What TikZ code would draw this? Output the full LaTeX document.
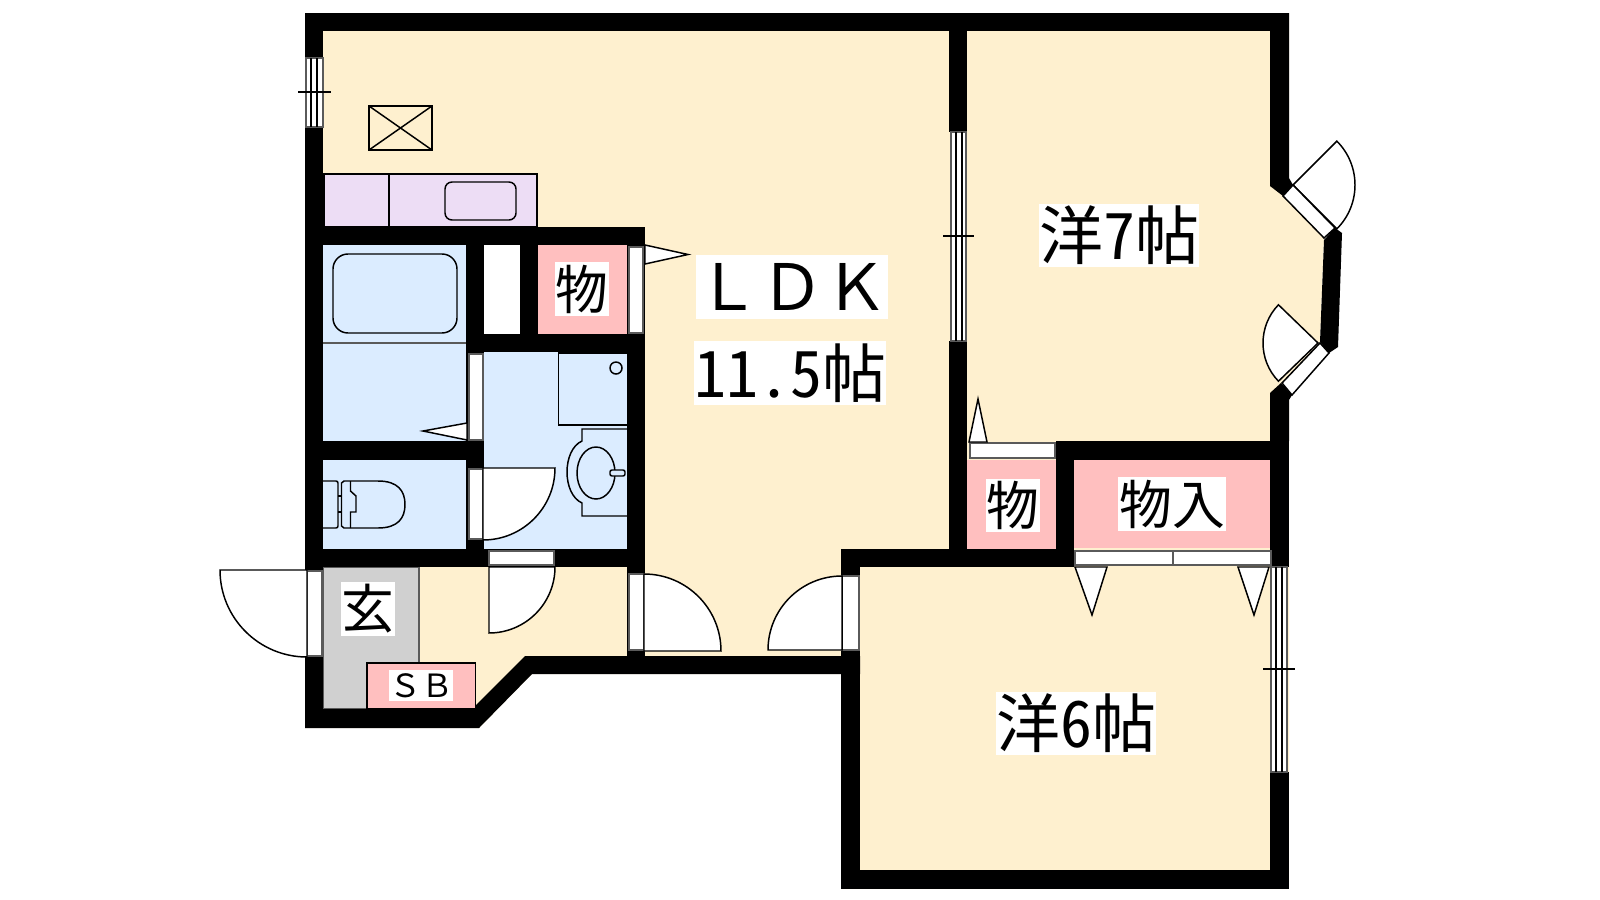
\documentclass[tikz,border=0pt]{standalone}
\usepackage{fontspec}
\usepackage{tikz}
\newfontfamily\gothicFont[RawFeature=+hwid]{Noto Sans CJK JP}
\newfontfamily\wideFont{Noto Sans CJK JP}
\definecolor{roomColor}{RGB}{254,240,207}
\definecolor{wetColor}{RGB}{219,236,255}
\definecolor{storeColor}{RGB}{255,191,191}
\definecolor{kitchenColor}{RGB}{237,221,245}
\definecolor{entryColor}{RGB}{208,208,208}
\definecolor{slotColor}{RGB}{90,90,90}
\tikzstyle{floorPlan} = [x = .01cm, y = -.01cm]
\tikzstyle{wallStyle} = [fill=black]
\tikzstyle{fixtureLine} = [draw=black, line width=.42pt]
\tikzstyle{paneLine} = [draw=black, line width=.3pt]
\tikzstyle{slotLine} = [draw=slotColor, line width=.42pt]
\tikzstyle{leafStyle} = [draw=black, fill=white, line width=.42pt]
\tikzstyle{labelStyle} = [fill=white, inner sep=0pt, text=black]
\newcommand{\bigText}{\gothicFont\fontsize{18.2}{18.2}\selectfont}
\newcommand{\bigWide}{\wideFont\fontsize{18.2}{18.2}\selectfont}
\newcommand{\midText}{\gothicFont\fontsize{15}{15}\selectfont}
\newcommand{\smallWide}{\wideFont\fontsize{9.1}{9.1}\selectfont}
\newcommand{\slotGap}{1.2}
\newcommand{\wall}[4]{\fill [wallStyle] (#1,#2) rectangle (#3,#4);}
\newcommand{\room}[5]{\fill [#1] (#2,#3) rectangle (#4,#5);}
\newcommand{\slotBox}[4]{
  \fill [white] (#1 - \slotGap,#2 - \slotGap) rectangle (#3 + \slotGap,#4 + \slotGap);
  \draw [slotLine] (#1,#2) rectangle (#3,#4);
}
\newcommand{\doorMark}[6]{\filldraw [leafStyle] (#1,#2) -- (#3,#4) -- (#5,#6) -- cycle;}
% hinge x, hinge y, start angle, end angle, radius
\newcommand{\doorLeaf}[5]{\filldraw [leafStyle] (#1,#2) -- ++(#3:#5) arc [start angle=#3, end angle=#4, radius=#5] -- cycle;}
\newcommand{\windowV}[6]{
  \slotBox{#1}{#2}{#3}{#4}
  \pgfmathsetmacro{\lineLeft}{#1 + 5}
  \pgfmathsetmacro{\lineRight}{#1 + 11}
  \draw [paneLine] (\lineLeft,#2) -- (\lineLeft,#4);
  \draw [paneLine] (\lineRight,#2) -- (\lineRight,#4);
  \draw [paneLine] (#1 - 8,#5) -- (#3 + 8,#5);
  \draw [paneLine] (\lineLeft,#5 - #6) -- (\lineLeft,#5);
  \draw [paneLine] (\lineRight,#5) -- (\lineRight,#5 + #6);
}
\begin{document}
\begin{tikzpicture}[floorPlan]
  \useasboundingbox (0,0) rectangle (1600,900);
  % floor
  \fill [roomColor] (305,13) -- (1289,13) -- (1289,180) -- (1283,196) -- (1324,238) -- (1320,342)
    -- (1282,383) -- (1289,400) -- (1289,889) -- (841,889) -- (841,674) -- (532,674) -- (479,728)
    -- (305,728) -- cycle;
  \room{wetColor}{323}{245}{466}{441}
  \room{wetColor}{323}{460}{466}{549}
  \room{wetColor}{484}{352}{627}{549}
  \room{white}{484}{245}{520}{334}
  \room{storeColor}{538}{245}{627}{334}
  \room{storeColor}{967}{460}{1056}{549}
  \room{storeColor}{1074}{460}{1270}{548}
  \filldraw [entryColor, draw=slotColor, line width=.3pt] (323,567) rectangle (419,709);
  % walls
  \wall{305}{13}{1289}{31}
  \wall{305}{13}{323}{58}
  \wall{305}{127}{323}{728}
  \wall{949}{31}{967}{132}
  \wall{949}{341}{967}{549}
  \wall{305}{227}{645}{245}
  \wall{466}{245}{484}{549}
  \wall{520}{245}{538}{334}
  \wall{466}{334}{645}{352}
  \wall{627}{227}{645}{656}
  \wall{305}{441}{484}{460}
  \wall{305}{549}{645}{567}
  \fill [wallStyle] (525,656) -- (860,656) -- (860,674) -- (532,674) -- (479,728) -- (305,728)
    -- (305,709) -- (472,709) -- cycle;
  \wall{841}{549}{860}{889}
  \wall{841}{549}{1074}{567}
  \wall{1056}{441}{1074}{567}
  \wall{1056}{441}{1289}{460}
  \wall{841}{870}{1289}{889}
  \wall{1270}{772}{1289}{889}
  \wall{1270}{441}{1289}{567}
  \fill [wallStyle] (1270,13) -- (1289,13) -- (1289,178) -- (1293,185) -- (1283,196) -- (1270,186) -- cycle;
  \fill [wallStyle] (1335,228) -- (1342,233) -- (1338,347) -- (1329,353) -- (1320,342) -- (1324,240) -- cycle;
  \fill [wallStyle] (1270,393) -- (1281,383) -- (1292,395) -- (1289,400) -- (1289,441) -- (1270,441) -- cycle;
  % kitchen
  \filldraw [fixtureLine, fill=kitchenColor] (324,174) rectangle (537,227);
  \draw [fixtureLine] (389,174) -- (389,227);
  \draw [fixtureLine, rounded corners=.07cm] (445,182) rectangle (516,220);
  \draw [fixtureLine] (369,106) rectangle (432,150);
  \draw [fixtureLine] (369,106) -- (432,150);
  \draw [fixtureLine] (369,150) -- (432,106);
  % bath
  \draw [fixtureLine, rounded corners=.15cm] (333,254) rectangle (457,333);
  \draw [slotLine] (323,343) -- (466,343);
  % wash basin and machine place
  \draw [fixtureLine] (627,353) -- (558.5,353) -- (558.5,425) -- (627,425);
  \draw [fixtureLine] (616,368) circle [radius=6];
  \draw [fixtureLine] (627,429) -- (582,429) -- (582,441) .. controls (562,450) and (562,494) .. (582,503)
    -- (582,516) -- (627,516);
  \draw [fixtureLine] (596,473) ellipse [x radius=19, y radius=26];
  \draw [fixtureLine, fill=wetColor, rounded corners=.02cm] (610,470) rectangle (625,476);
  % toilet
  \draw [fixtureLine, rounded corners=.02cm] (323,481) -- (338,481) -- (338,528) -- (323,528);
  \draw [fixtureLine] (338,496) -- (341.5,496);
  \draw [fixtureLine] (338,512) -- (341.5,512);
  \draw [fixtureLine] (378,481) -- (344,481) -- (341.5,483) -- (341.5,526) -- (344,528) -- (378,528)
    .. controls (398,528) and (405,518) .. (405,504.5) .. controls (405,491) and (398,481) .. (378,481);
  \draw [fixtureLine] (350.5,481) -- (350.5,491) -- (356,496) -- (356,512) -- (350.5,512) -- (350.5,528);
  % storage for shoes
  \filldraw [fixtureLine, fill=storeColor] (367,663) rectangle (475.5,709);
  % windows
  \windowV{306}{58}{323}{127}{92}{8}
  \windowV{951}{132}{966}{341}{236}{8}
  \windowV{1271}{567}{1287}{772}{669}{7}
  % doors
  \slotBox{469}{354}{483}{440}
  \slotBox{469}{469}{483}{539}
  \slotBox{629}{247}{643}{333}
  \slotBox{307}{571}{322}{656}
  \slotBox{489}{551}{554}{565}
  \slotBox{629}{574}{644}{650}
  \slotBox{842}{576}{859}{650}
  \slotBox{970}{443}{1055}{458}
  \slotBox{1075}{551}{1271}{565}
  \draw [slotLine] (1173,551) -- (1173,565);
  \doorLeaf{307}{570}{180}{90}{87}
  \doorLeaf{483}{468}{0}{90}{72}
  \doorLeaf{489}{567}{90}{0}{66}
  \doorLeaf{644}{651}{0}{-90}{77}
  \doorLeaf{842}{650}{180}{270}{74}
  \doorLeaf{1293}{185}{-45}{45}{62}
  \doorLeaf{1318}{343}{224}{136}{55}
  \filldraw [leafStyle] (1283,196) -- (1293,185) -- (1335,228) -- (1324,238) -- cycle;
  \filldraw [leafStyle] (1320,343) -- (1329,353) -- (1292,395) -- (1282,383) -- cycle;
  \doorMark{645}{245}{645}{264}{688}{254.5}
  \doorMark{467}{423}{467}{440}{423}{431}
  \doorMark{969}{442}{987}{442}{978}{399}
  \doorMark{1075}{567}{1107}{567}{1092}{615}
  \doorMark{1238}{567}{1269}{567}{1254}{615}
  % labels
  \node (ldkName) [labelStyle, font=\bigWide, minimum width=1.92cm, minimum height=.64cm] at (792,287) {ＬＤＫ};
  \node (ldkSize) [labelStyle, font=\bigText, minimum width=1.92cm, minimum height=.64cm] at (790,373) {11.5帖};
  \node (westSeven) [labelStyle, font=\bigText, minimum width=1.6cm, minimum height=.63cm] at (1119,235.5) {洋7帖};
  \node (westSix) [labelStyle, font=\bigText, minimum width=1.6cm, minimum height=.63cm] at (1076,723.5) {洋6帖};
  \node (storeBath) [labelStyle, font=\midText, minimum width=.54cm, minimum height=.54cm] at (582,289) {物};
  \node (storeRoom) [labelStyle, font=\midText, minimum width=.54cm, minimum height=.53cm] at (1013,505.5) {物};
  \node (closetRoom) [labelStyle, font=\midText, minimum width=1.08cm, minimum height=.54cm] at (1172,504) {物入};
  \node (entryName) [labelStyle, font=\midText, minimum width=.54cm, minimum height=.54cm] at (368,609) {玄};
  \node (shoeName) [labelStyle, font=\smallWide, minimum width=.64cm, minimum height=.31cm] at (421,685.5) {ＳＢ};
\end{tikzpicture}
\end{document}
